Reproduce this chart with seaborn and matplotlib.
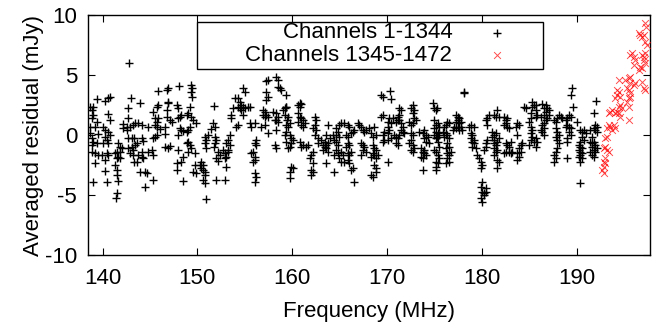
import matplotlib
matplotlib.use("Agg")
import matplotlib.pyplot as plt
from matplotlib.patches import Rectangle
import numpy as np
import pandas as pd
import seaborn as sns

# ---------------- data (frequency MHz, averaged residual mJy) ----------------
seg_139_143 = [(142.83,5.97),(139.46,2.97),(140.27,2.86),(140.55,3.06),(140.79,3.14),(142.97,3.10),(138.69,2.36),(139.04,2.36),(138.86,2.08),(142.72,2.22),(139.04,1.67),(138.86,1.39),(139.39,1.11),(139.21,0.70),(138.69,0.70),(140.62,1.72),(140.79,1.25),(142.72,1.45),(142.12,0.89),(142.55,0.70),(142.90,0.70),(143.25,0.84),(143.42,0.97),(140.09,0.70),(140.27,0.42),(140.62,0.28),(140.79,0.00),(138.69,0.14),(138.86,-0.28),(139.04,-0.55),(138.86,-0.83),(139.56,0.06),(139.39,-0.69),(140.27,-0.14),(140.44,-0.42),(140.09,-0.69),(140.62,-0.69),(141.67,-0.69),(141.84,-0.97),(142.02,-1.11),(141.49,-1.39),(141.84,-1.39),(142.19,0.61),(142.55,0.42),(142.72,-0.28),(143.07,-0.22),(143.35,-0.28),(143.42,-0.83),(142.72,-1.11),(143.07,-0.97),(143.25,-1.25),(142.90,-1.53),(143.25,-1.67),(143.35,-2.28),(138.86,-1.39),(139.21,-1.53),(139.56,-1.67),(139.91,-1.67),(140.44,-1.53),(140.62,-1.67),(141.32,-1.53),(141.49,-1.94),(141.67,-1.81),(141.84,-1.94),(139.21,-2.36),(140.27,-2.08),(141.32,-2.50),(141.49,-2.92),(141.49,-3.33),(141.60,-3.83),(140.27,-3.00),(139.04,-3.89),(140.44,-3.94),(141.49,-4.86),(141.42,-5.28)]
seg_143_148 = [(145.88,3.67),(146.75,3.75),(146.86,3.89),(148.05,4.08),(143.95,2.64),(145.88,2.50),(145.70,2.36),(146.86,2.78),(146.93,2.64),(146.75,2.08),(147.81,2.50),(147.98,2.22),(148.33,1.67),(145.35,1.89),(145.53,1.39),(145.81,1.45),(145.70,1.11),(146.75,1.53),(147.10,1.25),(147.28,1.11),(147.91,1.39),(148.16,1.53),(143.77,0.97),(144.12,0.84),(144.82,0.70),(145.53,0.84),(145.70,0.70),(146.05,0.50),(146.58,0.70),(146.58,0.06),(148.16,0.56),(148.33,0.42),(148.51,0.33),(147.98,0.00),(144.12,-0.28),(144.30,-0.50),(143.60,-0.69),(145.35,-0.28),(145.53,-0.14),(145.70,0.00),(143.77,-1.67),(144.12,-1.81),(144.30,-1.94),(144.12,-1.39),(144.82,-1.39),(145.18,-1.25),(145.35,-1.67),(146.58,-0.97),(146.86,-1.05),(147.10,-0.89),(147.98,-1.25),(148.51,-1.81),(148.33,-2.22),(147.81,-2.36),(147.81,-2.92),(143.60,-2.22),(143.95,-3.06),(144.47,-3.06),(144.65,-3.19),(145.35,-3.75),(144.47,-4.30),(148.51,-3.83)]
seg_149_154 = [(149.38,4.17),(149.45,3.89),(149.38,3.61),(149.45,3.20),(149.20,2.36),(149.03,1.81),(149.38,1.53),(149.56,1.25),(149.91,0.97),(148.86,1.67),(149.20,0.70),(149.03,0.42),(148.86,0.28),(151.77,2.42),(153.77,2.22),(153.59,1.67),(153.52,1.39),(153.94,3.06),(151.66,0.97),(151.84,0.70),(151.49,0.50),(149.03,-0.55),(149.20,-0.83),(149.38,-1.05),(150.79,-0.14),(151.14,0.00),(150.96,-0.42),(150.79,-0.69),(150.96,-1.11),(151.84,-0.14),(152.01,-0.42),(151.84,-0.69),(151.77,-0.97),(153.42,0.00),(153.24,-0.42),(153.07,-0.69),(153.42,-0.83),(153.24,-1.25),(148.86,-0.69),(149.73,-1.53),(149.03,-1.39),(152.19,-1.39),(152.36,-1.67),(152.01,-1.94),(152.19,-2.17),(152.72,-1.25),(152.89,-1.53),(153.07,-1.81),(153.24,-1.39),(152.89,-1.94),(153.07,-2.64),(150.43,-2.22),(150.61,-2.50),(150.26,-2.50),(150.43,-2.78),(150.61,-2.92),(150.79,-3.06),(149.73,-2.50),(149.56,-3.06),(150.79,-3.33),(150.61,-3.75),(150.79,-4.03),(149.91,-3.19),(152.01,-3.75),(152.89,-3.75),(150.96,-5.36)]
seg_154_159 = [(157.28,4.50),(157.46,4.58),(158.34,4.86),(158.51,4.58),(158.51,4.03),(158.69,3.89),(158.86,3.75),(154.83,3.89),(155.00,3.61),(157.28,3.61),(157.46,3.20),(157.28,2.92),(154.30,3.06),(154.48,2.78),(154.65,2.50),(154.30,2.36),(154.83,2.36),(154.48,2.22),(154.65,2.08),(155.00,2.22),(155.35,2.36),(155.53,2.36),(156.93,2.08),(157.11,1.94),(157.11,1.53),(156.93,1.67),(157.28,1.67),(157.46,1.53),(157.98,1.94),(158.34,1.81),(158.51,1.53),(158.16,1.25),(158.34,1.25),(158.51,1.11),(159.21,2.22),(159.04,2.08),(159.21,1.67),(159.39,2.36),(154.83,1.67),(154.13,0.70),(154.30,0.84),(155.53,0.97),(155.70,0.70),(156.05,0.97),(157.11,0.84),(157.46,0.14),(156.76,0.70),(158.34,0.42),(158.16,-0.83),(158.34,-1.11),(159.39,0.84),(159.21,0.00),(159.39,-0.55),(156.23,-0.42),(156.05,-0.69),(156.23,-0.83),(155.88,-1.39),(155.70,-1.53),(156.05,-1.81),(156.05,-2.08),(155.88,-2.22),(156.05,-3.19),(156.23,-3.47),(156.05,-3.89)]
seg_159_164 = [(159.39,3.33),(159.39,2.36),(159.56,1.53),(159.49,1.25),(159.39,0.28),(159.56,0.70),(159.73,0.97),(160.79,2.64),(160.61,2.50),(160.79,2.36),(160.96,2.56),(160.61,1.81),(160.79,1.53),(160.96,1.39),(160.61,1.11),(161.14,1.25),(161.32,0.97),(161.14,0.70),(160.96,0.84),(159.73,0.00),(159.91,-0.28),(160.09,-0.42),(159.91,-0.69),(159.73,-0.97),(159.56,-1.11),(160.79,-0.55),(161.14,-0.83),(160.96,-0.97),(161.49,-0.97),(161.67,-0.83),(162.37,1.53),(162.54,1.25),(162.37,0.84),(162.19,0.56),(162.54,0.42),(162.37,0.00),(162.72,-0.28),(163.07,-0.42),(162.72,-0.69),(163.24,-0.83),(163.42,-0.97),(163.60,-0.83),(163.77,-0.69),(163.42,-0.55),(163.60,-1.11),(163.24,-1.25),(163.77,-1.39),(163.77,0.84),(163.60,0.00),(163.95,-0.28),(164.30,0.00),(164.47,-0.42),(162.02,-1.67),(162.19,-1.39),(161.84,-1.94),(162.19,-2.36),(159.91,-2.64),(160.09,-2.78),(159.73,-3.06),(159.73,-3.61),(162.02,-2.92),(162.19,-3.06),(162.02,-3.33),(164.47,-3.06),(163.60,-2.36),(164.47,-1.67)]
seg_164_170 = [(169.38,3.33),(169.56,3.20),(169.56,1.67),(169.38,1.53),(164.99,0.84),(165.17,0.97),(165.52,0.97),(165.87,0.84),(166.05,0.70),(166.93,0.97),(167.10,0.84),(167.28,0.70),(164.65,0.56),(164.82,0.28),(164.65,0.00),(164.99,-0.14),(165.70,0.00),(165.87,-0.14),(166.23,0.14),(166.40,0.28),(166.58,0.42),(167.45,0.42),(167.63,0.28),(167.80,0.42),(168.15,0.56),(168.68,0.70),(168.33,0.14),(168.50,-0.14),(168.86,0.00),(169.73,0.28),(169.56,0.00),(169.73,-0.42),(169.56,-0.55),(164.65,-0.55),(164.82,-0.83),(164.65,-1.25),(164.82,-1.53),(165.87,-0.69),(166.05,-0.83),(165.70,-0.97),(167.28,-0.69),(167.45,-0.83),(167.63,-0.97),(167.45,-1.25),(167.80,-1.39),(167.28,-1.67),(168.50,-0.83),(168.68,-1.11),(168.86,-1.25),(168.50,-1.53),(168.68,-1.67),(168.33,-1.81),(168.86,-1.94),(169.03,-1.67),(165.17,-1.39),(165.35,-1.67),(164.99,-1.94),(165.17,-2.22),(165.52,-2.22),(165.87,-2.08),(166.05,-2.36),(165.87,-1.53),(166.05,-1.67),(166.23,-1.39),(168.68,-2.50),(168.86,-2.78),(168.33,-3.33),(168.50,-3.47),(168.86,-3.06),(166.23,-2.92),(166.40,-2.78),(166.58,-3.89)]
seg_170_175 = [(170.35,3.70),(170.40,3.00),(171.31,2.22),(171.49,2.08),(171.14,1.53),(171.31,1.67),(172.72,2.50),(172.54,2.22),(172.89,2.08),(172.72,1.81),(174.82,2.64),(174.99,2.22),(175.17,2.08),(170.26,1.39),(170.09,1.11),(170.44,0.97),(170.61,1.39),(170.96,1.11),(171.14,1.25),(171.31,1.25),(171.49,0.97),(171.66,0.70),(171.49,0.42),(171.66,0.28),(171.84,0.14),(172.37,1.11),(172.54,0.84),(172.89,1.39),(173.07,1.25),(172.72,0.97),(170.09,0.70),(170.26,0.42),(170.09,0.14),(170.44,-0.28),(170.09,-0.42),(170.79,0.00),(170.96,-0.14),(171.14,-0.28),(171.31,0.00),(170.96,-0.69),(171.14,-0.83),(172.54,0.14),(172.72,0.00),(172.54,-0.42),(172.37,-0.69),(172.72,-0.83),(173.42,0.28),(173.77,0.14),(173.95,0.42),(174.12,0.00),(173.95,-0.28),(174.30,-0.14),(174.12,-0.55),(174.47,-0.69),(174.99,1.25),(175.17,0.84),(174.99,0.56),(175.17,0.28),(174.99,0.00),(175.17,-0.28),(175.35,-0.55),(174.99,-1.25),(172.54,-1.25),(172.72,-1.39),(172.89,-1.11),(173.60,-1.11),(173.77,-1.39),(173.95,-1.53),(173.60,-1.81),(173.77,-1.94),(174.12,-1.67),(173.95,-1.25),(170.09,-2.22),(173.77,-2.92),(175.17,-2.92)]
seg_175_180 = [(178.08,3.47),(178.15,3.61),(175.27,2.22),(175.34,0.97),(175.52,0.70),(175.34,0.14),(175.52,0.00),(175.27,-0.14),(176.04,0.70),(176.22,0.84),(176.39,1.11),(176.57,0.97),(177.27,1.67),(177.45,1.53),(177.62,1.39),(177.45,1.25),(177.80,1.11),(177.62,0.97),(177.45,0.70),(177.27,0.56),(177.62,0.42),(177.80,0.70),(177.97,0.42),(177.27,1.11),(177.10,0.70),(176.92,0.42),(175.87,0.28),(176.22,0.14),(176.39,0.00),(176.04,-0.14),(176.57,-0.28),(178.67,0.70),(178.85,0.84),(179.20,0.70),(178.85,0.14),(179.02,0.00),(178.85,-0.28),(179.02,-0.55),(179.20,-0.69),(179.20,-0.42),(179.02,-0.97),(179.37,-1.11),(175.52,-0.97),(175.17,-1.39),(175.34,-1.67),(175.52,-1.94),(175.17,-2.22),(175.34,-2.36),(175.17,-2.64),(176.39,-0.69),(176.57,-0.97),(176.22,-1.11),(176.39,-1.53),(176.57,-1.67),(176.75,-1.39),(176.39,-1.94),(176.57,-2.22),(176.22,-2.36),(179.55,-1.67),(179.72,-1.94),(179.90,-2.22),(180.08,-2.50),(179.90,-2.78),(180.08,-3.89),(179.90,-4.30),(180.08,-4.72),(180.25,-5.00),(179.90,-5.28),(180.08,-5.55),(180.25,-4.86)]
seg_180_185 = [(181.65,2.08),(181.30,1.67),(181.83,1.53),(181.48,1.53),(180.78,1.67),(180.60,1.39),(180.43,1.25),(180.60,0.84),(182.36,1.53),(182.53,1.25),(182.71,1.39),(182.53,0.97),(182.36,0.84),(182.71,0.70),(182.88,0.56),(183.76,0.97),(183.94,0.84),(183.58,0.70),(183.76,0.00),(184.46,2.36),(184.64,2.22),(185.34,2.78),(185.51,2.50),(185.34,2.36),(185.16,1.81),(185.16,1.39),(184.99,1.11),(185.16,0.70),(185.34,0.42),(185.16,0.14),(185.34,-0.14),(185.16,-0.42),(185.51,-0.55),(184.99,-0.83),(181.13,0.28),(181.30,0.00),(181.48,0.14),(181.13,-0.14),(181.30,-0.42),(181.65,-0.55),(181.83,-0.28),(180.43,-0.69),(180.60,-0.42),(180.43,-0.97),(180.25,-1.25),(181.30,-0.69),(181.48,-0.83),(181.30,-1.11),(181.65,-1.25),(181.48,-1.39),(181.30,-1.67),(182.53,-0.69),(182.71,-0.83),(182.88,-0.97),(183.06,-0.55),(182.88,-1.39),(182.53,-1.39),(182.36,-1.53),(183.06,-1.53),(183.23,-1.39),(183.94,-1.11),(184.11,-0.83),(184.29,-0.69),(184.11,-1.39),(183.76,-1.53),(183.94,-1.81),(183.76,-2.08),(181.65,-2.08),(181.83,-2.22),(181.65,-2.78),(180.43,-4.44),(180.43,-4.72)]
seg_185_191 = [(189.55,3.89),(189.44,3.33),(189.65,2.36),(186.39,2.56),(186.74,2.50),(186.56,2.22),(186.91,2.22),(186.74,1.94),(187.09,2.08),(185.69,2.50),(185.69,2.08),(185.86,1.67),(185.69,1.53),(186.21,1.53),(186.56,1.67),(186.91,1.39),(187.09,1.67),(186.74,1.25),(186.56,0.97),(187.62,1.25),(187.79,1.11),(188.14,1.67),(188.32,1.53),(187.97,1.39),(188.49,1.39),(189.20,1.67),(189.37,1.53),(189.02,1.39),(188.84,1.25),(189.02,0.84),(189.20,0.70),(189.37,0.56),(188.84,0.70),(190.07,1.11),(186.39,0.84),(186.56,0.56),(186.39,0.28),(186.56,0.00),(186.21,0.42),(187.79,0.56),(187.97,0.28),(187.79,-0.14),(188.14,0.00),(187.97,-0.42),(188.14,-0.69),(189.20,0.28),(189.37,0.00),(189.02,-0.28),(185.69,-0.28),(185.86,-0.55),(185.69,-0.97),(187.97,-1.11),(187.79,-1.39),(187.62,-1.67),(187.79,-1.94),(187.62,-2.22),(189.02,-0.55),(189.02,-1.94),(190.42,0.42),(190.60,0.28),(190.77,0.42),(190.95,0.14),(190.60,-0.14),(190.77,-0.42),(190.42,-0.55),(190.25,-0.83),(190.42,-0.97),(190.60,-1.11),(190.25,-1.25),(190.42,-1.39),(190.60,-1.53),(190.42,-1.67),(190.25,-1.81),(190.60,-1.94),(190.42,-2.22),(190.42,-4.03)]
seg_191_193 = [(192.09,2.86),(191.88,1.81),(191.99,0.83),(192.16,0.69),(191.81,0.56),(191.99,0.42),(192.16,0.28),(191.46,0.42),(191.64,-0.14),(191.46,-0.55),(191.64,-0.69),(191.81,-0.55),(191.99,-0.83),(191.64,-0.97),(191.81,-1.25),(191.46,-1.39),(191.64,-1.67),(191.81,-1.81),(191.99,-1.39),(192.16,-1.11)]

seg_red = [(192.86,-3.19),(192.69,-2.92),(192.86,-2.64),(193.04,-2.36),(192.86,-2.22),(193.04,-1.94),(193.04,-0.97),(193.22,-1.25),(193.39,-1.39),(192.86,-1.11),(193.04,-0.28),(193.22,-0.14),(193.22,0.56),(193.57,0.69),(193.92,0.83),(194.09,0.56),(193.74,0.42),(193.39,0.83),(193.39,1.81),(193.74,2.08),(193.57,1.94),(194.09,1.81),(194.27,1.94),(194.44,1.81),(194.62,1.53),(194.44,2.36),(194.62,2.50),(194.79,2.22),(194.27,3.33),(194.44,3.61),(194.62,3.20),(194.09,3.06),(194.27,3.75),(194.44,4.58),(195.32,3.89),(195.50,3.75),(195.67,3.47),(195.50,3.06),(195.67,3.20),(195.50,2.36),(195.32,2.78),(195.50,1.25),(195.15,4.58),(195.50,4.72),(195.67,4.86),(195.67,6.67),(195.85,6.81),(196.02,6.53),(196.20,6.25),(196.02,5.83),(196.72,8.33),(196.90,8.20),(196.55,8.47),(197.07,8.33),(196.90,6.67),(197.07,6.53),(197.25,6.81),(197.07,6.25),(197.25,5.97),(196.72,5.70),(196.90,5.56),(196.55,5.42),(197.25,9.31),(197.35,9.03),(197.25,7.78),(197.42,7.50),(197.07,3.89),(197.25,3.75),(196.90,4.44),(196.02,4.17),(196.20,4.31),(195.67,4.31)]

x_ticks = [140, 150, 160, 170, 180, 190]
y_ticks = [-10, -5, 0, 5, 10]
label_black = "Channels 1-1344"
label_red = "Channels 1345-1472"

black = (seg_139_143 + seg_143_148 + seg_149_154 + seg_154_159 + seg_159_164 +
         seg_164_170 + seg_170_175 + seg_175_180 + seg_180_185 + seg_185_191 + seg_191_193)
df_black = pd.DataFrame(black, columns=["freq", "res"])
df_red = pd.DataFrame(seg_red, columns=["freq", "res"])

# ---------------- style ----------------
sns.set_theme(style="ticks")
plt.rcParams["font.family"] = ["Liberation Sans", "DejaVu Sans"]
plt.rcParams.update({"axes.edgecolor": "black", "xtick.color": "black", "ytick.color": "black",
                     "text.color": "black", "axes.labelcolor": "black",
                     "axes.unicode_minus": False})

fig = plt.figure(figsize=(6.54, 3.30), dpi=100)
L, R, T, B = 88.3, 649.5, 15.0, 255.0
W, H = 654.0, 330.0
ax = fig.add_axes([L / W, 1 - B / H, (R - L) / W, (B - T) / H])

sns.scatterplot(data=df_black, x="freq", y="res", marker="+", color="black", s=38,
                linewidth=1.0, ax=ax, label=label_black, zorder=3)
sns.scatterplot(data=df_red, x="freq", y="res", marker="x", color="red", s=24,
                linewidth=0.7, alpha=0.7, ax=ax, label=label_red, zorder=3)

ax.set_xlim(138.5, 197.7)
ax.set_ylim(-10, 10)
ax.set_xticks(x_ticks)
ax.set_yticks(y_ticks)
ax.tick_params(direction="in", length=5, width=0.8, top=True, right=True, labelsize=16)
ax.tick_params(axis="y", pad=8)
ax.tick_params(axis="x", pad=9)
for sp in ax.spines.values():
    sp.set_linewidth(1.0)
    sp.set_color("black")

ax.set_xlabel("Frequency (MHz)", fontsize=16, labelpad=9)
ax.set_ylabel("Averaged residual (mJy)", fontsize=16, labelpad=1)

# legend: entries right-aligned (markerfirst=False), box drawn separately
def ax_x(px):
    return (px - L) / (R - L)

def ax_y(py):
    return 1 - (py - T) / (B - T)

leg = ax.legend(loc="upper right", bbox_to_anchor=(ax_x(519), ax_y(22.5)), markerfirst=False,
                frameon=False, fontsize=16, handletextpad=1.0, handlelength=2.0,
                borderpad=0.0, labelspacing=0.08, borderaxespad=0)
ax.add_patch(Rectangle((ax_x(197), ax_y(69)), ax_x(543) - ax_x(197), ax_y(22) - ax_y(69),
                       transform=ax.transAxes, fill=False, edgecolor="black",
                       linewidth=1.0, zorder=4))

fig.savefig("out.png", dpi=100)
